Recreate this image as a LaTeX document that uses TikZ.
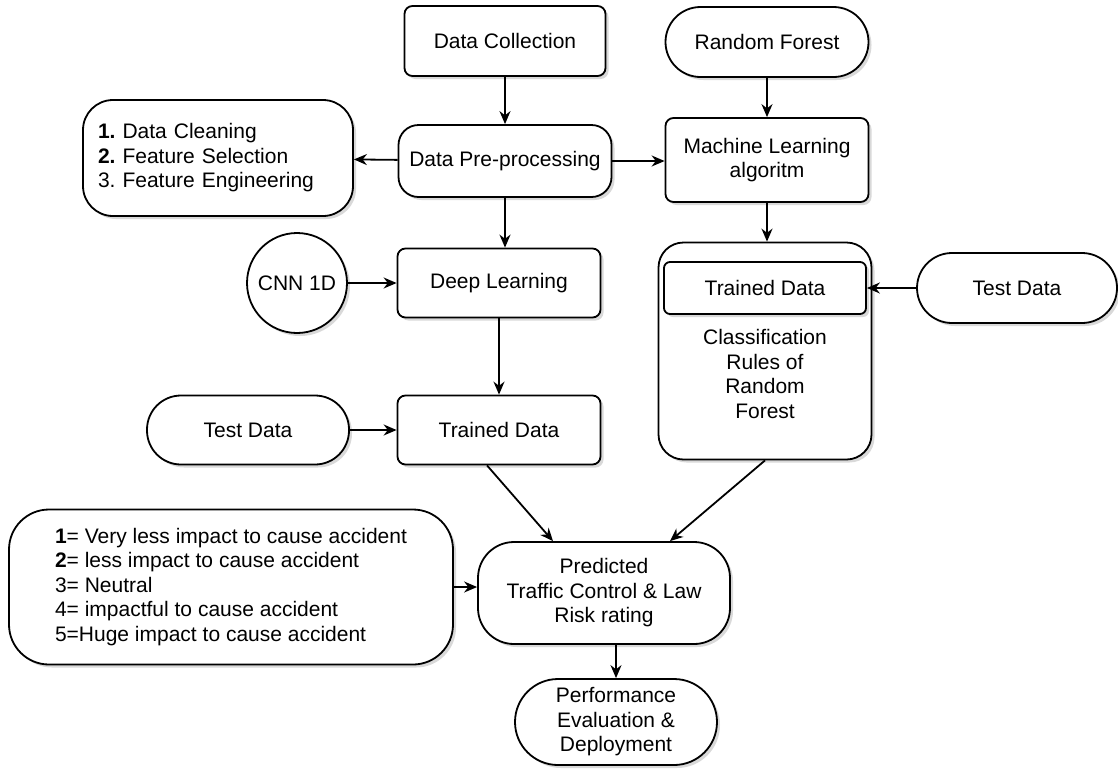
\documentclass[tikz,border=0pt]{standalone}
\usepackage{fontspec}
\setmainfont{Liberation Sans}
\newcommand{\ChartFont}{\fontsize{10.5}{12.25}\selectfont\frenchspacing}
\usepackage{tikz}
\usetikzlibrary{arrows.meta,shadows}

\begin{document}
\begin{tikzpicture}[x=.5pt,y=-.5pt,text=black,
  flowbox/.style={draw=black,line width=.9pt,fill=white,align=center,font=\ChartFont,inner sep=0pt,
    drop shadow={shadow xshift=1.5pt,shadow yshift=-1.5pt,opacity=.3,fill=gray}},
  squarebox/.style={flowbox,rounded corners=4pt},
  pillbox/.style={flowbox,rounded corners=#1},
  flowarrow/.style={draw=black,line width=.9pt,-{Stealth[length=6.5pt,width=5.5pt]}}]
  \useasboundingbox (0,0) rectangle (1118,772);
  % upper row
  \node[squarebox,minimum width=100.5pt,minimum height=35pt] (collect) at (505,41) {Data Collection};
  \node[pillbox=17.5pt,minimum width=101.5pt,minimum height=35pt] (forest) at (767,42) {Random Forest};
  \node[pillbox=10pt,minimum width=106.5pt,minimum height=36pt] (prep) at (505,161) {Data Pre-processing};
  \node[squarebox,minimum width=101.5pt,minimum height=42pt] (mla) at (767,160) {Machine Learning\\algoritm};
  \node[pillbox=15pt,minimum width=135pt,minimum height=58pt,text width=120pt,align=left] (steps) at (218,158)
    {\textbf{1.} Data Cleaning\\\textbf{2.} Feature Selection\\3. Feature Engineering};
  % deep learning branch
  \node[flowbox,circle,minimum size=50pt] (cnn) at (297,283) {CNN 1D};
  \node[squarebox,minimum width=101.5pt,minimum height=34.5pt] (deep) at (499,283) {Deep Learning};
  \node[squarebox,minimum width=101.5pt,minimum height=34.5pt] (trainl) at (499,430) {Trained Data};
  \node[pillbox=17pt,minimum width=101pt,minimum height=34.5pt] (testl) at (248,430) {Test Data};
  % random forest branch
  \node[pillbox=12.5pt,minimum width=106.5pt,minimum height=108.5pt] (rules) at (765,351) {};
  \node[squarebox,rounded corners=3pt,minimum width=101pt,minimum height=26pt] (trainr) at (765,288) {Trained Data};
  \node[font=\ChartFont,align=center,inner sep=0pt] (rulestext) at (765,374) {Classification\\Rules of\\Random\\Forest};
  \node[pillbox=17.5pt,minimum width=100pt,minimum height=35pt] (testr) at (1017,288) {Test Data};
  % prediction
  \node[pillbox=18pt,minimum width=126pt,minimum height=51pt] (pred) at (604,593) {Predicted\\Traffic Control \& Law\\Risk rating};
  \node[pillbox=21.5pt,minimum width=101pt,minimum height=43pt] (perf) at (616,722) {Performance\\Evaluation \&\\Deployment};
  \node[pillbox=20pt,minimum width=222pt,minimum height=77.5pt,align=left] (risk) at (231,587)
    {\textbf{1}= Very less impact to cause accident\\\textbf{2}= less impact to cause accident\\3= Neutral\\4= impactful to cause accident\\5=Huge impact to cause accident};
  % connectors
  \draw[flowarrow] (collect) -- (prep);
  \draw[flowarrow] (forest) -- (mla);
  \draw[flowarrow] (prep) -- (steps);
  \draw[flowarrow] (prep.east) -- (prep.east -| mla.west);
  \draw[flowarrow] (prep.south) -- (prep.south |- deep.north);
  \draw[flowarrow] (cnn) -- (deep);
  \draw[flowarrow] (deep) -- (trainl);
  \draw[flowarrow] (testl) -- (trainl);
  \draw[flowarrow] (mla.south) -- (mla.south |- rules.north);
  \draw[flowarrow] (testr) -- (trainr);
  \draw[flowarrow] ([xshift=-6pt]trainl.south) -- ([xshift=-25.5pt]pred.north);
  \draw[flowarrow] (rules.south) -- ([xshift=33pt]pred.north);
  \draw[flowarrow] (risk.east) -- (risk.east -| pred.west);
  \draw[flowarrow] (perf.north |- pred.south) -- (perf.north);
\end{tikzpicture}
\end{document}
